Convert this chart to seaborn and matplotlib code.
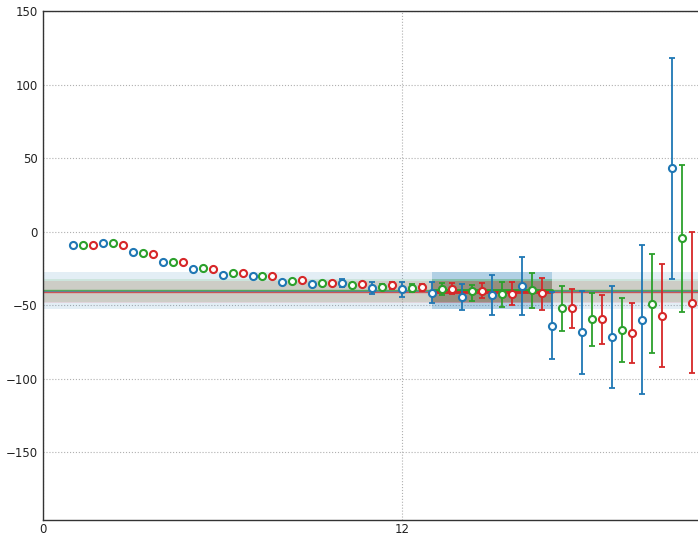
import matplotlib
matplotlib.use("Agg")
import matplotlib.pyplot as plt
import numpy as np
import pandas as pd
import seaborn as sns

# Steps 1..21, three runs per step
steps = list(range(1, 22))
runs = ["A", "B", "C"]

run_a = [-8.8, -7.7, -14.0, -20.6, -25.4, -29.2, -30.2, -34.5, -35.8, -35.1,
         -38.3, -39.0, -42.0, -44.2, -43.1, -36.7, -63.8, -68.5, -71.9, -59.9, 43.1]
run_a_low = [-9.3, -8.2, -14.6, -21.2, -26.0, -29.9, -31.0, -35.4, -36.9, -37.9,
             -42.4, -44.7, -48.5, -53.3, -56.5, -56.5, -86.8, -96.6, -106.4, -110.4, -32.4]
run_a_high = [-8.3, -7.2, -13.4, -20.0, -24.8, -28.5, -29.4, -33.6, -34.7, -32.2,
              -34.5, -34.5, -34.5, -35.6, -29.5, -17.5, -41.3, -40.0, -36.7, -9.0, 118.3]

run_b = [-8.8, -7.9, -14.5, -20.6, -24.9, -28.3, -29.9, -33.6, -35.1, -36.1,
         -37.4, -38.3, -39.0, -40.6, -42.4, -39.7, -52.2, -59.4, -66.8, -49.2, -4.4]
run_b_low = [-9.3, -8.4, -15.1, -21.2, -25.5, -29.0, -30.7, -34.5, -36.2, -37.6,
             -39.2, -40.8, -43.0, -47.0, -51.5, -52.2, -67.4, -77.6, -88.4, -82.5, -54.3]
run_b_high = [-8.3, -7.4, -13.9, -20.0, -24.3, -27.6, -29.1, -32.7, -34.0, -34.6,
              -35.6, -35.6, -35.0, -36.0, -34.5, -28.1, -36.7, -41.7, -45.0, -15.2, 45.3]

run_c = [-9.3, -8.8, -15.0, -20.6, -25.4, -28.3, -30.4, -33.1, -34.7, -35.6,
         -36.5, -37.9, -39.0, -40.1, -42.4, -42.0, -52.2, -59.4, -69.1, -57.2, -48.3]
run_c_low = [-9.8, -9.3, -15.6, -21.2, -26.0, -29.0, -31.2, -34.0, -35.8, -37.1,
             -38.9, -40.5, -42.4, -45.0, -49.9, -53.3, -65.2, -76.4, -89.4, -91.8, -96.0]
run_c_high = [-8.8, -8.3, -14.4, -20.0, -24.8, -27.6, -29.6, -32.2, -33.6, -34.1,
              -34.5, -35.5, -35.0, -35.0, -34.5, -31.5, -38.7, -42.9, -48.3, -22.2, 0.0]

# Reference level (mean) and spread for each run
ref_mean = [-40.2, -39.8, -41.2]
ref_low = [-52.8, -47.5, -48.5]
ref_high = [-27.6, -32.5, -33.5]
window = [13, 17]

values = [run_a, run_b, run_c]
lows = [run_a_low, run_b_low, run_c_low]
highs = [run_a_high, run_b_high, run_c_high]

sns.set_style("whitegrid", {"grid.linestyle": ":", "grid.color": "#b0b0b0",
                            "axes.edgecolor": "#333333"})
plt.rcParams["font.family"] = ["DejaVu Sans"]
tab = sns.color_palette("tab10", 10)
palette = [tab[0], tab[2], tab[3]]

fig = plt.figure(figsize=(6.98, 5.37), dpi=100)
ax = fig.add_axes([43 / 698, 17 / 537, 1 - 43 / 698 + 0.005, 509 / 537])

x_full = [0, 23]
for i in range(3):
    col = palette[i]
    ax.fill_between(x_full, ref_low[i], ref_high[i], color=col, alpha=0.12,
                    linewidth=0, zorder=1)
    ax.plot(x_full, [ref_mean[i]] * 2, color=col, lw=1.0, alpha=0.7, zorder=2)
for i in range(3):
    col = palette[i]
    ax.fill_between(window, ref_low[i], ref_high[i], color=col, alpha=0.25,
                    linewidth=0, zorder=1.5)
    ax.plot(window, [ref_mean[i]] * 2, color=col, lw=2.0, zorder=2.5)

frames = []
for i, name in enumerate(runs):
    xs = np.array(steps) + i / 3
    v = np.array(values[i])
    lo = np.array(lows[i])
    hi = np.array(highs[i])
    ax.errorbar(xs, v, yerr=[v - lo, hi - v], fmt="none", ecolor=palette[i],
                elinewidth=1.3, capsize=2.2, capthick=1.3, zorder=3)
    frames.append(pd.DataFrame({"x": xs, "y": v, "run": name}))
df = pd.concat(frames, ignore_index=True)

for i, name in enumerate(runs):
    sub = df[df["run"] == name]
    sns.scatterplot(data=sub, x="x", y="y", ax=ax, color="white",
                    edgecolor=palette[i], linewidth=1.5, s=26, marker="o",
                    zorder=4, legend=False)

ax.set_xlim(0, 22)
ax.set_ylim(-196, 150)
ax.set_xticks([0, 12])
ax.set_yticks([150, 100, 50, 0, -50, -100, -150])
ax.tick_params(axis="y", length=0, labelsize=8.5, pad=4, colors="#222222")
ax.tick_params(axis="x", length=0, labelsize=8.5, pad=2, colors="#222222")
ax.set_xlabel("")
ax.set_ylabel("")
ax.spines["right"].set_visible(False)
for s in ["left", "bottom", "top"]:
    ax.spines[s].set_linewidth(1.0)

fig.savefig("out.png", dpi=100)
